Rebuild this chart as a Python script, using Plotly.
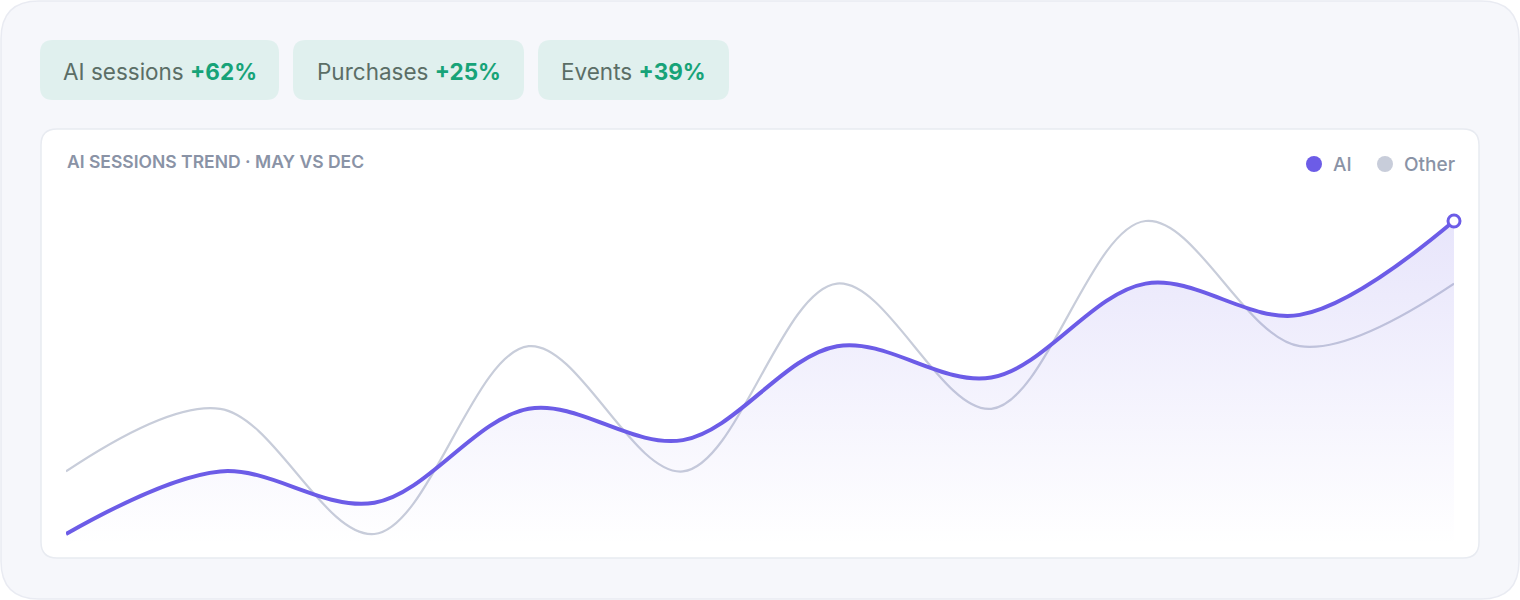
import plotly.graph_objects as go

# data
months = ["May", "Jun", "Jul", "Aug", "Sep", "Oct", "Nov", "Dec", "Jan", "Feb"]
ai_sessions = [42, 48, 45, 54, 51, 60, 57, 66, 63, 72]
other_sessions = [48, 54, 42, 60, 48, 66, 54, 72, 60, 66]

pill_labels = ["AI sessions", "Purchases", "Events"]
pill_values = ["+62%", "+25%", "+39%"]

title_text = "AI SESSIONS TREND · MAY VS DEC"
legend_names = ["AI", "Other"]

AI_COLOR = "#6c5ce7"
OTHER_COLOR = "#c8cddA"
MUTED = "#8a93a6"

W, H = 1520, 600
L, R, T, B = 66, 66, 190, 55
PW, PH = W - L - R, H - T - B


def px(x):
    return (x - L) / PW


def py(y):
    return (H - B - y) / PH


def rounded_rect(x0, y0, x1, y1, r):
    # pixel box -> paper path with rounded corners
    rx, ry = r / PW, r / PH
    a, b, c, d = px(x0), px(x1), py(y0), py(y1)  # c top, d bottom
    return (f"M {a + rx},{c} L {b - rx},{c} Q {b},{c} {b},{c - ry} "
            f"L {b},{d + ry} Q {b},{d} {b - rx},{d} "
            f"L {a + rx},{d} Q {a},{d} {a},{d + ry} "
            f"L {a},{c - ry} Q {a},{c} {a + rx},{c} Z")


# y range so 42 sits at 534px and 72 at 221px
unit = (534 - 221) / 30
y_lo = 42 - (H - B - 534) / unit
y_hi = 42 + (534 - T) / unit

fig = go.Figure()

fig.add_trace(go.Scatter(
    x=months, y=other_sessions, mode="lines", name="Other",
    line=dict(color=OTHER_COLOR, width=2.2, shape="spline", smoothing=1),
    hoverinfo="skip", showlegend=False,
))
fig.add_trace(go.Scatter(
    x=months, y=ai_sessions, mode="lines", name="AI",
    line=dict(color=AI_COLOR, width=4, shape="spline", smoothing=1),
    fill="tozeroy",
    fillgradient=dict(type="vertical", start=y_lo, stop=max(ai_sessions),
                      colorscale=[[0, "rgba(108,92,231,0)"], [1, "rgba(108,92,231,0.16)"]]),
    hoverinfo="skip", showlegend=False,
))
fig.add_trace(go.Scatter(
    x=[months[-1]], y=[ai_sessions[-1]], mode="markers",
    marker=dict(size=12, color="white", line=dict(color=AI_COLOR, width=3)),
    hoverinfo="skip", showlegend=False, cliponaxis=False,
))

shapes = [
    dict(type="path", path=rounded_rect(1, 1, 1519, 599, 38), xref="paper", yref="paper",
         fillcolor="#f6f7fb", line=dict(color="#e9ebf2", width=1.5), layer="below"),
    dict(type="path", path=rounded_rect(41, 129, 1479, 558, 16), xref="paper", yref="paper",
         fillcolor="#ffffff", line=dict(color="#e8ebf1", width=1.5), layer="below"),
]

annotations = []
pill_boxes = [(40, 279), (293, 524), (538, 729)]
for (x0, x1), lab, val in zip(pill_boxes, pill_labels, pill_values):
    shapes.append(dict(type="path", path=rounded_rect(x0, 40, x1, 100, 13), xref="paper", yref="paper",
                       fillcolor="#e0f0ee", line=dict(width=0), layer="below"))
    annotations.append(dict(
        x=px((x0 + x1) / 2), y=py(71), xref="paper", yref="paper", showarrow=False,
        text=f"{lab} <b><span style='color:#17a378'>{val}</span></b>",
        font=dict(family="Inter", size=22.5, color="#5b6e66"),
        xanchor="center", yanchor="middle",
    ))

annotations.append(dict(
    x=px(65), y=py(161), xref="paper", yref="paper", showarrow=False,
    text=title_text, font=dict(family="Inter", size=17.5, color=MUTED, weight=600),
    xanchor="left", yanchor="middle",
))

# legend
for cx, name, col, tx in [(1314, legend_names[0], AI_COLOR, 1331), (1385, legend_names[1], OTHER_COLOR, 1402)]:
    shapes.append(dict(type="circle", xref="paper", yref="paper",
                       x0=px(cx - 8), x1=px(cx + 8), y0=py(164 + 8), y1=py(164 - 8),
                       fillcolor=col, line=dict(width=0)))
    annotations.append(dict(
        x=px(tx), y=py(164), xref="paper", yref="paper", showarrow=False,
        text=name, font=dict(family="Inter", size=19, color=MUTED, weight=500),
        xanchor="left", yanchor="middle",
    ))

fig.update_layout(
    width=W, height=H,
    margin=dict(l=L, r=R, t=T, b=B),
    paper_bgcolor="white", plot_bgcolor="rgba(0,0,0,0)",
    xaxis=dict(visible=False, range=[0, len(months) - 1]),
    yaxis=dict(visible=False, range=[y_lo, y_hi]),
    shapes=shapes, annotations=annotations,
    showlegend=False,
)

fig.write_html("out.html", config={"displayModeBar": False},
               post_script="document.body.style.margin='0';")
